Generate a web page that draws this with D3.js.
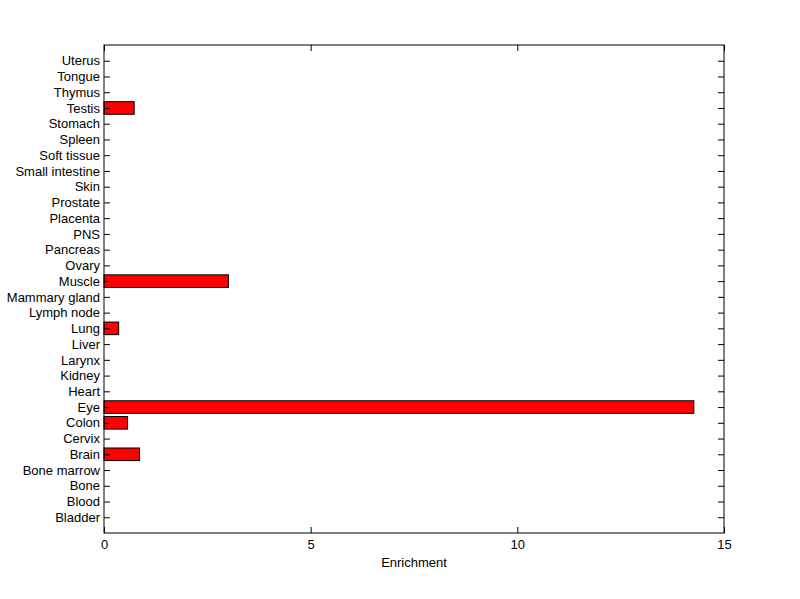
<!DOCTYPE html>
<html><head><meta charset="utf-8">
<script src="https://cdn.jsdelivr.net/npm/d3@7"></script>
<style>body{margin:0;background:#fff}svg{display:block}text{font-family:"Liberation Sans",Arial,sans-serif;fill:#000}</style>
</head><body>
<svg id="c" width="800" height="599"></svg>
<script>
const categories = ["Bladder","Blood","Bone","Bone marrow","Brain","Cervix","Colon","Eye","Heart","Kidney","Larynx","Liver","Lung","Lymph node","Mammary gland","Muscle","Ovary","Pancreas","PNS","Placenta","Prostate","Skin","Small intestine","Soft tissue","Spleen","Stomach","Testis","Thymus","Tongue","Uterus"];
const enrichment = [0,0,0,0,0.86,0,0.57,14.27,0,0,0,0,0.355,0,0,3.01,0,0,0,0,0,0,0,0,0,0,0.73,0,0,0];
const xTicks = [0,5,10,15];
const xLabel = "Enrichment";

const L=104, R=724, T=45, B=533;
const svg = d3.select("#c");
const x = d3.scaleLinear().domain([0,15]).range([L,R]);
const y = d3.scaleLinear().domain([0,categories.length+1]).range([B,T]);
const bw = (y(0)-y(0.8));

svg.append("g").selectAll("rect").data(categories).join("rect")
  .attr("x", x(0)).attr("y",(d,i)=>y(i+1)-bw/2)
  .attr("width",(d,i)=>x(enrichment[i])-x(0)).attr("height",bw)
  .attr("fill",(d,i)=>enrichment[i]>0?"#ff0000":"none")
  .attr("stroke",(d,i)=>enrichment[i]>0?"#000":"none").attr("stroke-width",1);

const fs = "13px";
// left axis
const ga = svg.append("g").attr("transform",`translate(${L},0)`)
  .call(d3.axisLeft(y).tickValues(d3.range(1,categories.length+1)).tickFormat(i=>categories[i-1]).tickSize(-6).tickPadding(4));
const gr = svg.append("g").attr("transform",`translate(${R},0)`)
  .call(d3.axisRight(y).tickValues(d3.range(1,categories.length+1)).tickFormat("").tickSize(-6));
const gb = svg.append("g").attr("transform",`translate(0,${B})`)
  .call(d3.axisBottom(x).tickValues(xTicks).tickFormat(d3.format("d")).tickSize(-6).tickPadding(7));
const gt = svg.append("g").attr("transform",`translate(0,${T})`)
  .call(d3.axisTop(x).tickValues(xTicks).tickFormat("").tickSize(-6));
[ga,gr,gb,gt].forEach(g=>{
  g.select(".domain").remove();
  g.selectAll("line").attr("stroke","#000").attr("stroke-width",1);
  g.selectAll("text").style("font-size",fs).attr("font-family","Liberation Sans, Arial, sans-serif");
});
gb.selectAll("text").attr("dy","0.71em");
svg.append("rect").attr("x",L).attr("y",T).attr("width",R-L).attr("height",B-T)
  .attr("fill","none").attr("stroke","#000").attr("stroke-width",1);
svg.append("text").attr("x",(L+R)/2).attr("y",567).attr("text-anchor","middle")
  .style("font-size",fs).text(xLabel);
</script>
</body></html>
